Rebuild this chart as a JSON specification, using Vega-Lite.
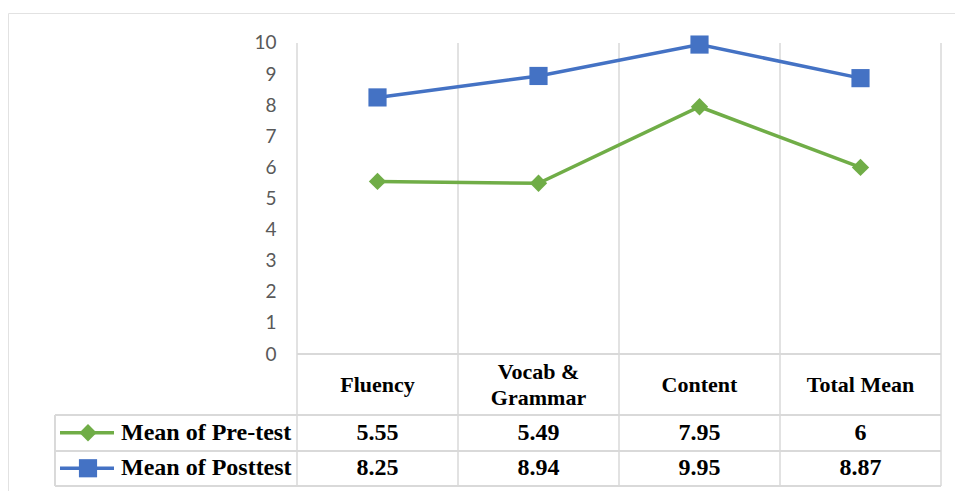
{
  "$schema": "https://vega.github.io/schema/vega-lite/v6.json",
  "autosize": {"type": "none"},
  "padding": {"left": 8, "top": 13, "right": 0, "bottom": 0},
  "width": 947,
  "height": 478,
  "background": "#ffffff",
  "config": {
    "view": {"stroke": "#e2e2e2", "strokeWidth": 1},
    "axis": {"labelFont": "Lato"}
  },
  "datasets": {
    "scores": [
      {"category": "Fluency", "series": "Mean of Pre-test", "value": 5.55},
      {"category": "Vocab & Grammar", "series": "Mean of Pre-test", "value": 5.49},
      {"category": "Content", "series": "Mean of Pre-test", "value": 7.95},
      {"category": "Total Mean", "series": "Mean of Pre-test", "value": 6},
      {"category": "Fluency", "series": "Mean of Posttest", "value": 8.25},
      {"category": "Vocab & Grammar", "series": "Mean of Posttest", "value": 8.94},
      {"category": "Content", "series": "Mean of Posttest", "value": 9.95},
      {"category": "Total Mean", "series": "Mean of Posttest", "value": 8.87}
    ]
  },
  "data": {"name": "scores"},
  "resolve": {"scale": {"x": "independent", "y": "independent"}},
  "layer": [
    {
      "description": "Table frame: baseline under the plot and the row rules of the data table",
      "encoding": {
        "x": {"datum": -1.5031, "type": "quantitative", "scale": {"domain": [-1.795, 4.087], "nice": false, "zero": false}, "axis": null},
        "y": {"datum": -1.9614, "type": "quantitative", "scale": {"domain": [-4.4051, 10.9646], "nice": false, "zero": false}, "axis": null}
      },
      "layer": [
        {"mark": {"type": "rule", "color": "#d9d9d9", "strokeWidth": 1.5},
         "encoding": {"x": {"datum": 0}, "x2": {"datum": 4}, "y": {"datum": 0}}},
        {"mark": {"type": "rule", "color": "#d9d9d9", "strokeWidth": 1.5},
         "encoding": {"x2": {"datum": 4}}},
        {"mark": {"type": "rule", "color": "#d9d9d9", "strokeWidth": 1.5},
         "encoding": {"x2": {"datum": 4}, "y": {"datum": -3.119}}},
        {"mark": {"type": "rule", "color": "#d9d9d9", "strokeWidth": 1.5},
         "encoding": {"x2": {"datum": 4}, "y": {"datum": -4.2444}}},
        {"mark": {"type": "rule", "color": "#d9d9d9", "strokeWidth": 1.5},
         "encoding": {"y2": {"datum": -4.2444}}}
      ]
    },
    {
      "description": "Line chart of the two means per category",
      "encoding": {
        "x": {
          "field": "category", "type": "nominal",
          "scale": {"type": "band", "domain": ["Fluency", "Vocab & Grammar", "Content", "Total Mean"], "paddingInner": 0, "paddingOuter": 0.941, "align": 0.9538},
          "axis": null
        },
        "y": {
          "field": "value", "type": "quantitative",
          "scale": {"domain": [-4.4051, 10.9646], "nice": false, "zero": false},
          "axis": {
            "orient": "left", "offset": -289, "values": [0, 1, 2, 3, 4, 5, 6, 7, 8, 9, 10],
            "grid": false, "domain": false, "ticks": false, "labelPadding": 21,
            "labelFontSize": 19, "labelColor": "#595959", "title": null
          }
        }
      },
      "layer": [
        {
          "transform": [{"filter": "datum.series == 'Mean of Pre-test'"}],
          "mark": {"type": "rule", "color": "#d9d9d9", "strokeWidth": 1.5},
          "encoding": {"x": {"field": "category", "type": "nominal", "bandPosition": 0}, "y": {"datum": 10}, "y2": {"datum": -4.2444}}
        },
        {
          "transform": [{"filter": "datum.series == 'Mean of Pre-test' && datum.category == 'Total Mean'"}],
          "mark": {"type": "rule", "color": "#d9d9d9", "strokeWidth": 1.5},
          "encoding": {"x": {"field": "category", "type": "nominal", "bandPosition": 1}, "y": {"datum": 10}, "y2": {"datum": -4.2444}}
        },
        {
          "mark": {"type": "line", "strokeWidth": 3.5},
          "encoding": {
            "color": {"field": "series", "type": "nominal", "scale": {"domain": ["Mean of Pre-test", "Mean of Posttest"], "range": ["#70AD47", "#4472C4"]}, "legend": null}
          }
        },
        {
          "mark": {"type": "point", "filled": true, "opacity": 1},
          "encoding": {
            "color": {"field": "series", "type": "nominal", "scale": {"domain": ["Mean of Pre-test", "Mean of Posttest"], "range": ["#70AD47", "#4472C4"]}, "legend": null},
            "shape": {"field": "series", "type": "nominal", "scale": {"domain": ["Mean of Pre-test", "Mean of Posttest"], "range": ["diamond", "square"]}, "legend": null},
            "size": {"field": "series", "type": "nominal", "scale": {"domain": ["Mean of Pre-test", "Mean of Posttest"], "range": [300, 330]}, "legend": null}
          }
        },
        {
          "description": "Single-line column headers of the data table",
          "transform": [{"filter": "datum.series == 'Mean of Pre-test' && datum.category != 'Vocab & Grammar'"}],
          "mark": {"type": "text", "font": "Liberation Serif", "fontWeight": "bold", "fontSize": 22, "color": "#000000", "baseline": "middle", "align": "center"},
          "encoding": {
            "y": {"datum": -1},
            "text": {"field": "category"}
          }
        },
        {
          "description": "Two-line column header, its first line half a line above the row middle",
          "transform": [{"filter": "datum.series == 'Mean of Pre-test' && datum.category == 'Vocab & Grammar'"}],
          "mark": {"type": "text", "font": "Liberation Serif", "fontWeight": "bold", "fontSize": 22, "color": "#000000", "baseline": "middle", "align": "center", "lineHeight": 26},
          "encoding": {
            "y": {"datum": -0.582},
            "text": {"value": ["Vocab &", "Grammar"]}
          }
        }
      ]
    },
    {
      "description": "Data table values",
      "mark": {"type": "text", "font": "Liberation Serif", "fontWeight": "bold", "fontSize": 24, "color": "#000000", "baseline": "middle", "align": "center"},
      "encoding": {
        "x": {
          "field": "category", "type": "nominal",
          "scale": {"type": "band", "domain": ["Fluency", "Vocab & Grammar", "Content", "Total Mean"], "paddingInner": 0, "paddingOuter": 0.941, "align": 0.9538},
          "axis": null
        },
        "y": {
          "field": "series", "type": "nominal",
          "scale": {"type": "band", "domain": ["Mean of Pre-test", "Mean of Posttest"], "paddingInner": 0, "paddingOuter": 0, "range": [402, 473]},
          "axis": null
        },
        "text": {"field": "value", "type": "quantitative"}
      }
    },
    {
      "description": "Legend keys and series names in the first table column",
      "transform": [{"filter": "datum.category == 'Fluency'"}],
      "encoding": {
        "x": {"datum": -1.472, "type": "quantitative", "scale": {"domain": [-1.795, 4.087], "nice": false, "zero": false}, "axis": null},
        "y": {
          "field": "series", "type": "nominal",
          "scale": {"type": "band", "domain": ["Mean of Pre-test", "Mean of Posttest"], "paddingInner": 0, "paddingOuter": 0, "range": [402, 473]},
          "axis": null
        },
        "color": {"field": "series", "type": "nominal", "scale": {"domain": ["Mean of Pre-test", "Mean of Posttest"], "range": ["#70AD47", "#4472C4"]}, "legend": null}
      },
      "layer": [
        {"mark": {"type": "rule", "strokeWidth": 3.5}, "encoding": {"x2": {"datum": -1.1366}}},
        {
          "mark": {"type": "point", "filled": true, "opacity": 1},
          "encoding": {
            "x": {"datum": -1.2981},
            "shape": {"field": "series", "type": "nominal", "scale": {"domain": ["Mean of Pre-test", "Mean of Posttest"], "range": ["diamond", "square"]}, "legend": null},
            "size": {"field": "series", "type": "nominal", "scale": {"domain": ["Mean of Pre-test", "Mean of Posttest"], "range": [130, 170]}, "legend": null}
          }
        },
        {
          "mark": {"type": "text", "font": "Liberation Serif", "fontWeight": "bold", "fontSize": 24, "align": "left", "baseline": "middle"},
          "encoding": {"x": {"datum": -1.0932}, "text": {"field": "series"}, "color": {"value": "#000000"}}
        }
      ]
    }
  ]
}
